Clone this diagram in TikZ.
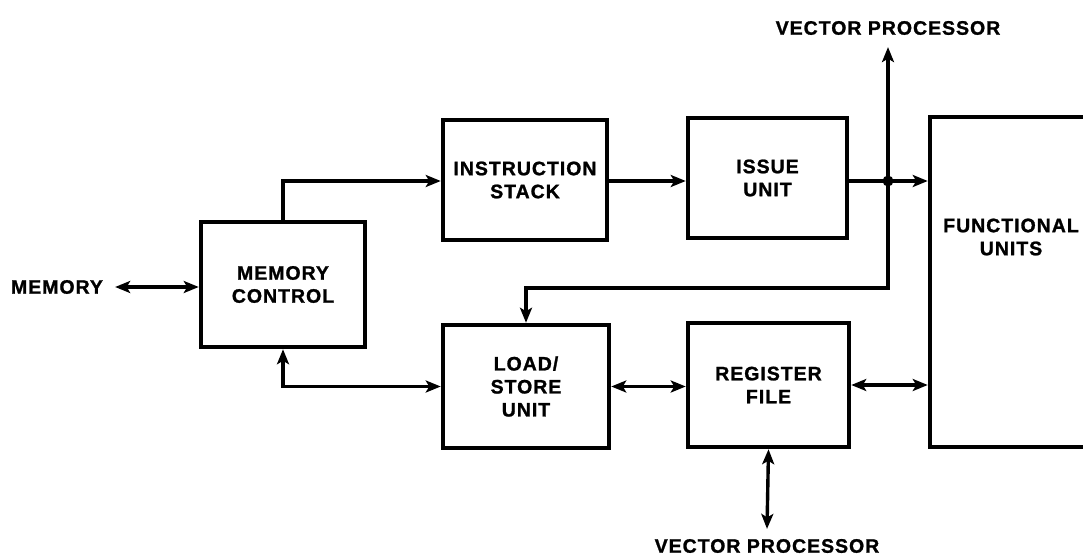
\documentclass[tikz,border=0pt]{standalone}
\usepackage{fontspec}
\setmainfont{Liberation Sans}[LetterSpace=5,FakeBold=1.2]
\usetikzlibrary{arrows.meta}
\begin{document}
\begin{tikzpicture}[x=1pt,y=-1pt,
  box/.style={draw,line width=4.5pt,align=center,inner sep=0pt},
  lbl/.style={font=\fontsize{19.5}{23}\selectfont\bfseries,align=center,inner sep=0pt},
  conn/.style={line width=3.4pt},
  >={Stealth[length=15pt,width=12pt,inset=3.5pt]}]
\useasboundingbox (0,0) rectangle (1083,556);
\begin{scope}
\clip (0,0) rectangle (1083,556);
\node[box,lbl,minimum width=164pt,minimum height=125pt] (mc) at (283,284.5) {MEMORY\\CONTROL};
\node[box,lbl,minimum width=164pt,minimum height=120pt] (is) at (525,180) {INSTRUCTION\\STACK};
\node[box,lbl,minimum width=159pt,minimum height=120pt] (iu) at (767.5,178) {ISSUE\\UNIT};
\node[box,lbl,minimum width=166pt,minimum height=123pt] (ls) at (526,386.5) {LOAD/\\STORE\\UNIT};
\node[box,lbl,minimum width=161pt,minimum height=124pt] (rf) at (768.5,385) {REGISTER\\FILE};
\node[box,minimum width=180pt,minimum height=330pt] (fu) at (1020,282) {};
\end{scope}
\node[lbl] (fut) at (1011,237) {FUNCTIONAL\\UNITS};
\node[lbl] (mem) at (57,287) {MEMORY};
\node[lbl] (vpt) at (888,28) {VECTOR PROCESSOR};
\node[lbl] (vpb) at (767,546) {VECTOR PROCESSOR};
\coordinate (j) at (888,181);
\coordinate (k) at (888,288);
% connectors
\draw[conn,<->] ([xshift=12pt]mem.east) -- (mc.west |- mem.east);
\draw[conn,->] (mc.north) |- (is.west |- j);
\draw[conn,->] (is.east |- j) -- (iu.west |- j);
\draw[conn,->] (iu.east |- j) -- (fu.west |- j);
\draw[conn,->] (j) -- ([yshift=-12pt]vpt.south);
\draw[conn,->] (j) -- (k) -| (ls.north);
\fill (j) circle (5.5pt);
\draw[conn,<->] (mc.south) |- (ls.west);
\draw[conn,<->] (ls.east) -- (rf.west |- ls.east);
\draw[conn,<->] (rf.east) -- (fu.west |- rf.east);
\draw[conn,<->] (rf.south) -- ([yshift=10pt]vpb.north);
\end{tikzpicture}
\end{document}
